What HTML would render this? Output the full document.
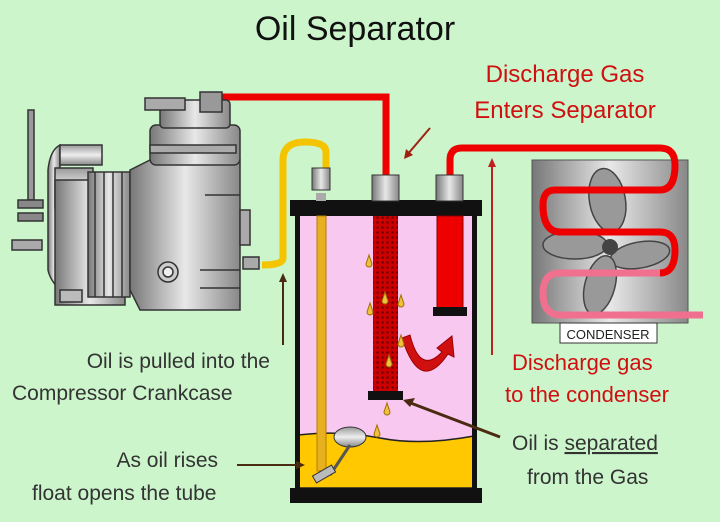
<!DOCTYPE html>
<html><head><style>
body{margin:0;background:#ccf5cc;}
svg{display:block;font-family:"Liberation Sans",sans-serif;}
</style></head><body>
<svg width="720" height="522" viewBox="0 0 720 522">
<defs>
<linearGradient id="g" x1="0" x2="1"><stop offset="0" stop-color="#777"/><stop offset=".5" stop-color="#e8e8e8"/><stop offset="1" stop-color="#888"/></linearGradient>
<linearGradient id="gv" x1="0" x2="0" y1="0" y2="1"><stop offset="0" stop-color="#999"/><stop offset=".5" stop-color="#eee"/><stop offset="1" stop-color="#888"/></linearGradient>
<pattern id="mesh" width="5" height="5" patternUnits="userSpaceOnUse"><rect width="5" height="5" fill="#c00"/><circle cx="2.5" cy="2.5" r="1.3" fill="#700"/></pattern>
</defs>
<rect width="720" height="522" fill="#ccf5cc"/>
<text x="355" y="40" font-size="34" text-anchor="middle" fill="#111">Oil Separator</text>
<text x="565" y="82" font-size="24" text-anchor="middle" fill="#d01010">Discharge Gas</text>
<text x="565" y="118" font-size="24" text-anchor="middle" fill="#d01010">Enters Separator</text>
<!-- pipes -->
<path d="M222 97 H386 V176" fill="none" stroke="#e00" stroke-width="7"/>
<path d="M326 170 V152 Q326 142 305 142 Q283 142 283 160 V258 Q283 265 262 265" fill="none" stroke="#f5c400" stroke-width="7"/>
<!-- condenser -->
<rect x="532" y="160" width="156" height="163" fill="url(#g)" stroke="#555"/>
<g fill="#999" stroke="#444" stroke-width="1.5">
<ellipse cx="610" cy="200" rx="18" ry="32" transform="rotate(-10 610 215)"/>
<ellipse cx="575" cy="245" rx="32" ry="14"/>
<ellipse cx="640" cy="255" rx="30" ry="13" transform="rotate(-10 640 255)"/>
<ellipse cx="600" cy="285" rx="15" ry="30" transform="rotate(15 600 285)"/>
</g>
<circle cx="610" cy="247" r="8" fill="#444"/>
<path d="M450 176 V160 Q450 148 462 148 H660 Q675 148 675 165 Q675 190 660 190 H555 Q543 190 543 205 Q543 232 560 232 H660 Q675 232 675 250 Q675 273 660 273" fill="none" stroke="#e00" stroke-width="7"/>
<path d="M660 273 H560 Q543 273 543 293 Q543 315 560 315 H703" fill="none" stroke="#f07090" stroke-width="7"/>
<rect x="560" y="323" width="97" height="20" fill="#fff" stroke="#333"/>
<text x="608" y="339" font-size="13" text-anchor="middle" fill="#222">CONDENSER</text>
<!-- tank -->
<rect x="298" y="216" width="176" height="272" fill="#f8c8f0"/>
<path d="M298 435 Q340 430 380 438 T474 436 V488 H298Z" fill="#ffc800" stroke="#222" stroke-width="1.5"/>
<rect x="295" y="212" width="5" height="280" fill="#111"/>
<rect x="472" y="212" width="5" height="280" fill="#111"/>
<rect x="290" y="200" width="192" height="16" fill="#111"/>
<rect x="290" y="488" width="192" height="15" fill="#111"/>
<rect x="312" y="168" width="18" height="22" fill="url(#g)" stroke="#333"/>
<rect x="316" y="193" width="10" height="8" fill="#aaa"/>
<rect x="317" y="216" width="9" height="255" fill="#e6b020" stroke="#b08000"/>
<rect x="372" y="175" width="27" height="26" fill="url(#g)" stroke="#333"/>
<rect x="436" y="175" width="27" height="26" fill="url(#g)" stroke="#333"/>
<rect x="373" y="216" width="25" height="176" fill="url(#mesh)"/>
<rect x="368" y="391" width="35" height="9" fill="#111"/>
<rect x="437" y="216" width="26" height="92" fill="#e00" stroke="#800"/>
<rect x="433" y="307" width="34" height="9" fill="#111"/>
<path d="M410 335 Q420 375 442 352 L437 348 L452 336 L454 357 L448 354 Q420 395 402 338Z" fill="#d01010" stroke="#900"/>
<g fill="#f0c040" stroke="#a07000" stroke-width="1">
<path d="M369 255 l-3 9 a3 3 0 0 0 6 0z"/><path d="M385 292 l-3 9 a3 3 0 0 0 6 0z"/><path d="M370 303 l-3 9 a3 3 0 0 0 6 0z"/><path d="M401 295 l-3 9 a3 3 0 0 0 6 0z"/><path d="M401 335 l-3 9 a3 3 0 0 0 6 0z"/><path d="M389 355 l-3 9 a3 3 0 0 0 6 0z"/><path d="M387 403 l-3 9 a3 3 0 0 0 6 0z"/><path d="M377 425 l-3 9 a3 3 0 0 0 6 0z"/>
</g>
<ellipse cx="350" cy="437" rx="16" ry="10" fill="url(#gv)" stroke="#333"/>
<path d="M350 445 L330 475" stroke="#555" stroke-width="3"/>
<rect x="313" y="470" width="22" height="8" fill="#bbb" stroke="#333" transform="rotate(-30 324 474)"/>
<!-- arrows -->
<g stroke-width="2" fill="none">
<path d="M430 128 L407 155" stroke="#a02010"/>
<path d="M492 355 V163" stroke="#c02020"/>
<path d="M283 345 V278" stroke="#4a2a10"/>
<path d="M237 465 H300" stroke="#4a2a10"/>
<path d="M500 437 L408 402" stroke="#4a2a10" stroke-width="3"/>
</g>
<path d="M404 159 l2 -10 l7 6z" fill="#a02010"/>
<path d="M492 158 l-4 9 h8z" fill="#c02020"/>
<path d="M283 273 l-4 9 h8z" fill="#4a2a10"/>
<path d="M305 465 l-9 -4 v8z" fill="#4a2a10"/>
<path d="M403 400 l12 -2 l-5 9z" fill="#4a2a10"/>
<!-- compressor -->
<g stroke="#333" stroke-width="1.5">
<rect x="28" y="110" width="6" height="90" fill="#999"/>
<rect x="18" y="200" width="25" height="8" fill="#888"/><rect x="18" y="213" width="25" height="8" fill="#888"/>
<rect x="12" y="240" width="30" height="10" fill="#aaa"/>
<path d="M48 170 Q50 150 60 145 V290 Q50 280 48 270Z" fill="url(#g)"/>
<rect x="55" y="168" width="38" height="40" fill="url(#gv)"/>
<rect x="60" y="145" width="42" height="20" fill="url(#gv)"/>
<rect x="55" y="180" width="70" height="125" fill="url(#g)"/>
<rect x="60" y="290" width="22" height="12" fill="#bbb"/>
<rect x="88" y="172" width="42" height="125" fill="url(#g)"/>
<path d="M95 172 V297 M104 172 V297 M113 172 V297 M122 172 V297" fill="none"/>
<path d="M130 170 L150 160 L240 160 V310 H140 L130 290Z" fill="url(#g)"/>
<rect x="150" y="125" width="90" height="40" rx="6" fill="url(#g)"/>
<rect x="150" y="145" width="86" height="8" fill="#aaa"/>
<rect x="160" y="100" width="70" height="28" rx="4" fill="url(#g)"/>
<rect x="145" y="98" width="40" height="12" fill="#aaa"/>
<rect x="200" y="92" width="22" height="20" fill="#999"/>
<rect x="240" y="210" width="10" height="35" fill="#aaa"/>
<rect x="243" y="257" width="16" height="12" fill="#aaa"/>
<circle cx="168" cy="272" r="10" fill="#ccc"/><circle cx="168" cy="272" r="5" fill="#eee"/>
<path d="M205 195 H240 M200 270 H240 M200 288 H240" fill="none"/>
</g>
<!-- labels -->
<g font-size="21" fill="#333">
<text x="270" y="368" text-anchor="end">Oil is pulled into the</text>
<text x="12" y="400">Compressor Crankcase</text>
<text x="218" y="467" text-anchor="end">As oil rises</text>
<text x="32" y="500">float opens the tube</text>
<text x="512" y="450">Oil is <tspan text-decoration="underline">separated</tspan></text>
<text x="527" y="484">from the Gas</text>
</g>
<g font-size="22" fill="#d01010">
<text x="512" y="370">Discharge gas</text>
<text x="505" y="402">to the condenser</text>
</g>
</svg>
</body></html>
